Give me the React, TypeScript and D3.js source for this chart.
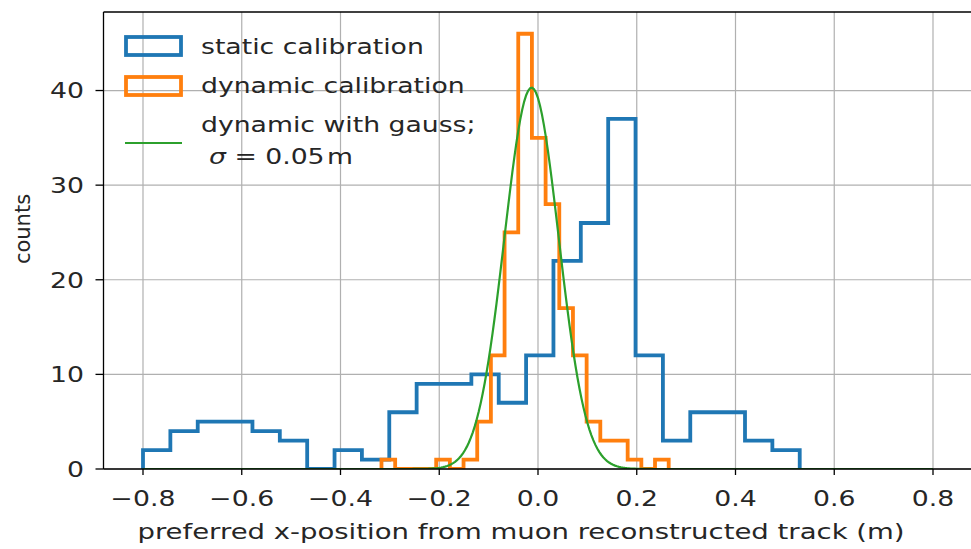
import React from "react";
import * as d3 from "d3";

// ---- data ----
const staticStart = -0.8;
const staticBinWidth = 0.05542;
const staticCounts = [2, 4, 5, 5, 4, 3, 0, 2, 1, 6, 9, 9, 10, 7, 12, 22, 26, 37, 12, 3, 6, 6, 3, 2];

const dynamicStart = -0.317;
const dynamicBinWidth = 0.0277;
const dynamicCounts = [1, 0, 0, 0, 1, 0, 1, 5, 12, 25, 46, 35, 28, 17, 12, 5, 3, 3, 1, 0, 1];

// gaussian fit parameters
const gaussAmp = 40.3;
const gaussMu = -0.013;
const gaussSigma = 0.055;
const gaussRange = [-0.8, 0.8];
const gaussSamples = 400;

const xTicks = [-0.8, -0.6, -0.4, -0.2, 0.0, 0.2, 0.4, 0.6, 0.8];
const yTicks = [0, 10, 20, 30, 40];

const legendLabels = ["static calibration", "dynamic calibration", "dynamic with gauss;"];
const xLabel = "preferred x-position from muon reconstructed track (m)";
const yLabel = "counts";

const W = 971;
const H = 549;
const SX = 1.27; // horizontal text stretch of reference
const FONT = "DejaVu Sans";
const FS = 21;
const BLUE = "#1f77b4";
const ORANGE = "#ff7f0e";
const GREEN = "#2ca02c";

const x = d3.scaleLinear().domain([-0.88, 0.88]).range([103.5, 972.5]);
const y = d3.scaleLinear().domain([0, 48.3]).range([469, 12]);

function stepPath(start: number, w: number, counts: number[]) {
  const pts: [number, number][] = [];
  pts.push([start, 0]);
  counts.forEach((c, i) => {
    pts.push([start + i * w, c]);
    pts.push([start + (i + 1) * w, c]);
  });
  pts.push([start + counts.length * w, 0]);
  return d3.line<[number, number]>().x((d) => x(d[0])).y((d) => y(d[1]))(pts) as string;
}

function T({ x: tx, y: ty, anchor = "start", children, rotate = 0, size = FS, sx = SX }: any) {
  const tr = rotate
    ? `translate(${tx},${ty}) rotate(${rotate}) scale(1,1)`
    : `translate(${tx},${ty}) scale(${sx},1)`;
  return (
    <text transform={tr} textAnchor={anchor} fontFamily={FONT} fontSize={size} fill="#262626">
      {children}
    </text>
  );
}

export default function App() {
  const gaussPts: [number, number][] = d3.range(gaussSamples + 1).map((i) => {
    const xv = gaussRange[0] + ((gaussRange[1] - gaussRange[0]) * i) / gaussSamples;
    return [xv, gaussAmp * Math.exp(-((xv - gaussMu) ** 2) / (2 * gaussSigma ** 2))];
  });
  const gaussPath = d3.line<[number, number]>().x((d) => x(d[0])).y((d) => y(d[1]))(gaussPts) as string;

  const [x0, x1] = x.range();
  const [yb, yt] = y.range();

  return (
    <svg width={W} height={H} style={{ position: "absolute", left: 0, top: 0, background: "#fff" }}>
      <defs>
        <clipPath id="plot">
          <rect x={x0} y={yt} width={x1 - x0} height={yb - yt} />
        </clipPath>
      </defs>
      {/* grid */}
      {xTicks.map((t) => (
        <line key={"gx" + t} x1={x(t)} x2={x(t)} y1={yt} y2={yb} stroke="#b0b0b0" strokeWidth={1.2} />
      ))}
      {yTicks.map((t) => (
        <line key={"gy" + t} x1={x0} x2={x1} y1={y(t)} y2={y(t)} stroke="#b0b0b0" strokeWidth={1.2} />
      ))}
      <g clipPath="url(#plot)" fill="none" strokeLinejoin="miter">
        <path d={stepPath(staticStart, staticBinWidth, staticCounts)} stroke={BLUE} strokeWidth={3.8} />
        <path d={stepPath(dynamicStart, dynamicBinWidth, dynamicCounts)} stroke={ORANGE} strokeWidth={3.8} />
        <path d={gaussPath} stroke={GREEN} strokeWidth={2.2} />
      </g>
      {/* spines */}
      <line x1={x0} x2={x0} y1={yt} y2={yb} stroke="#000" strokeWidth={1.3} />
      <line x1={x0} x2={x1} y1={yb} y2={yb} stroke="#000" strokeWidth={1.3} />
      <line x1={x0} x2={x1} y1={yt} y2={yt} stroke="#000" strokeWidth={1.3} />
      <line x1={x1} x2={x1} y1={yt} y2={yb} stroke="#000" strokeWidth={1.3} />
      {/* ticks */}
      {xTicks.map((t) => (
        <g key={"tx" + t}>
          <line x1={x(t)} x2={x(t)} y1={yb} y2={yb + 6} stroke="#000" strokeWidth={1.3} />
          <T x={x(t)} y={506} anchor="middle">
            {t < 0 ? "\u2212" + Math.abs(t).toFixed(1) : t.toFixed(1)}
          </T>
        </g>
      ))}
      {yTicks.map((t) => (
        <g key={"ty" + t}>
          <line x1={x0 - 8} x2={x0} y1={y(t)} y2={y(t)} stroke="#000" strokeWidth={1.3} />
          <T x={84} y={y(t) + 7.8} anchor="end">
            {String(t)}
          </T>
        </g>
      ))}
      {/* axis labels */}
      <T x={521} y={539} anchor="middle" sx={1.31}>
        {xLabel}
      </T>
      <T x={30} y={229} anchor="middle" rotate={-90}>
        {yLabel}
      </T>
      {/* legend */}
      <rect x={126} y={37} width={55} height={18} fill="none" stroke={BLUE} strokeWidth={3.8} />
      <rect x={126} y={77} width={55} height={18} fill="none" stroke={ORANGE} strokeWidth={3.8} />
      <line x1={125} x2={182} y1={143} y2={143} stroke={GREEN} strokeWidth={2.2} />
      <T x={201} y={54}>{legendLabels[0]}</T>
      <T x={201} y={93}>{legendLabels[1]}</T>
      <T x={201} y={132}>{legendLabels[2]}</T>
      <T x={209} y={164}>
        <tspan fontStyle="italic">σ</tspan>
        <tspan> = 0.05</tspan>
        <tspan dx={2}>m</tspan>
      </T>
    </svg>
  );
}
